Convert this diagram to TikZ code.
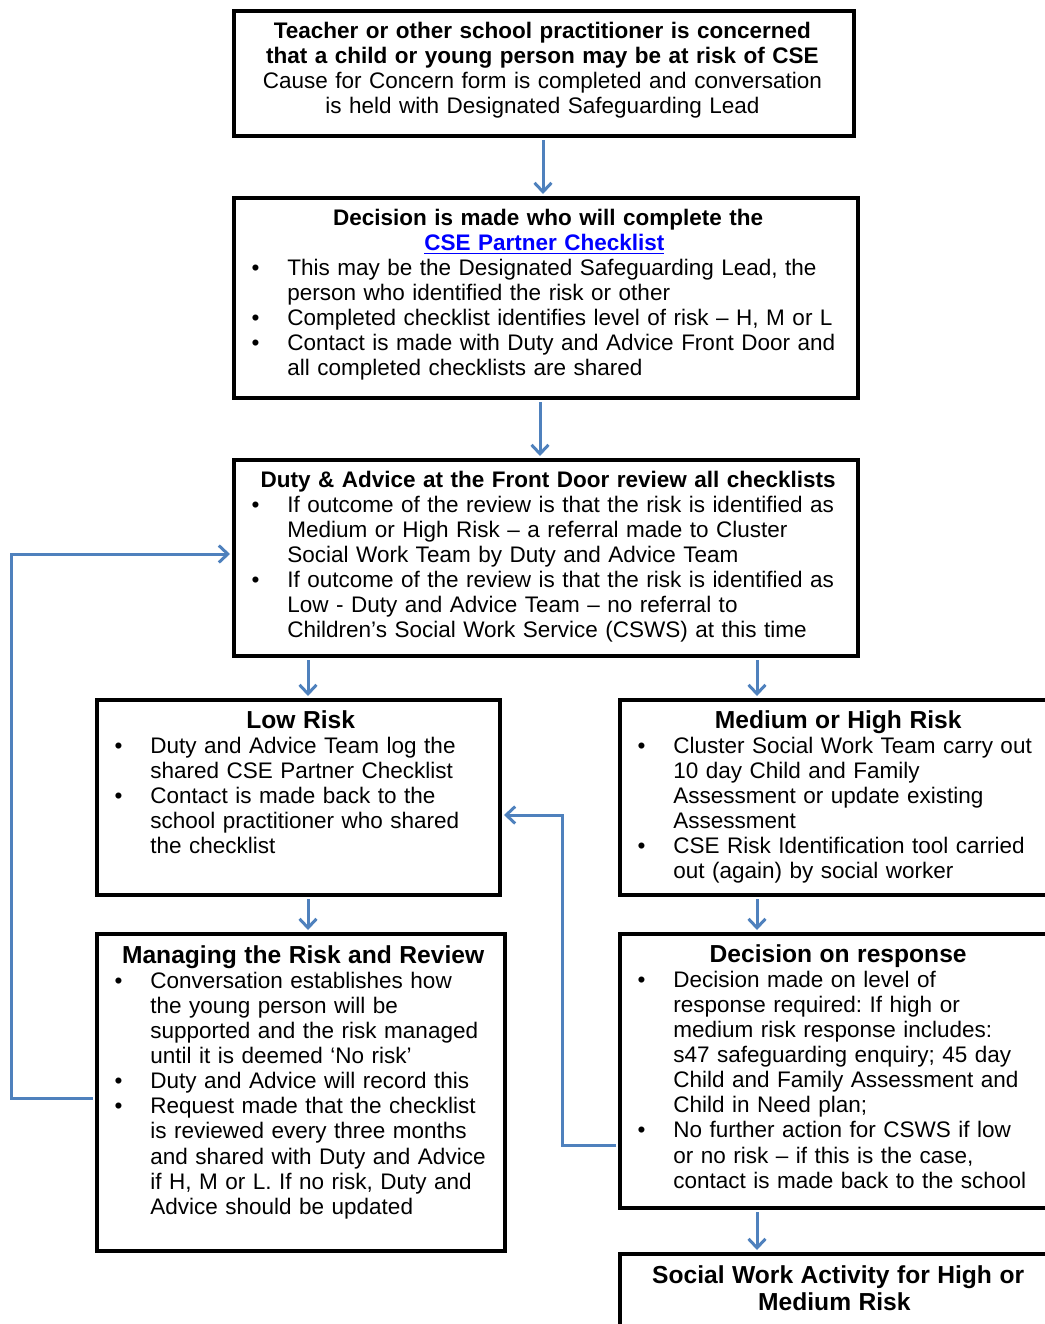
\documentclass[tikz,border=0pt]{standalone}
\usepackage{fontspec}
\setmainfont{Liberation Sans}
\usetikzlibrary{arrows.meta}

\definecolor{flowblue}{RGB}{79,129,189}
\definecolor{linkblue}{RGB}{0,0,255}
\newcommand{\boxhead}[2][]{{\centering\bfseries#1 #2\par}}
\newcommand{\bighead}{\fontsize{12.3}{13.2}\selectfont}
\newcommand{\bitem}[1]{{\leftskip=27.5pt\rightskip=-20pt plus 1fil\noindent\llap{\textbullet\hspace{14pt}}#1\par}}

\tikzset{
	panel/.style={draw, line width=2pt, inner sep=0pt},
	paneltext/.style={anchor=north west, inner sep=0pt, font=\fontsize{11.25}{12.55}\selectfont\frenchspacing},
	flow/.style={draw=flowblue, line width=1.5pt, shorten <=1pt, shorten >=1pt, -{Straight Barb[length=4.5pt,width=8.5pt]}}
}

\begin{document}
\begin{tikzpicture}[x=0.5pt, y=-0.5pt]
	\useasboundingbox (0,0) rectangle (1045,1324);
	% boxes
		\node[panel, minimum width=310pt, minimum height=62.5pt] (concern) at (544,73.5) {};
		\node[panel, minimum width=312pt, minimum height=100pt] (check) at (546,298) {};
		\node[panel, minimum width=312pt, minimum height=98pt] (duty) at (546,558) {};
		\node[panel, minimum width=201.5pt, minimum height=97.5pt] (low) at (298.5,797.5) {};
		\node[panel, minimum width=216pt, minimum height=97.5pt] (medhigh) at (836,797.5) {};
		\node[panel, minimum width=204pt, minimum height=158.5pt] (manage) at (301,1092.5) {};
		\node[panel, minimum width=216pt, minimum height=137pt] (response) at (836,1071) {};
		\node[panel, minimum width=216pt, minimum height=73pt] (social) at (836,1327) {};
	% texts
		\node[paneltext, text width=310pt, align=center] (concern-t) at ([yshift=-6.25pt]concern.north west)
			{\textbf{Teacher or other school practitioner is concerned}\\
			 \textbf{that a child or young person may be at risk of CSE}\\
			 Cause for Concern form is completed and conversation\\
			 is held with Designated Safeguarding Lead};
		\node[paneltext, text width=312pt] (check-t) at ([yshift=-6.25pt]check.north west)
			{\boxhead{Decision is made who will complete the\\
			 \textcolor{linkblue}{\underline{CSE Partner Checklist}}}
			 \bitem{This may be the Designated Safeguarding Lead, the\\person who identified the risk or other}
			 \bitem{Completed checklist identifies level of risk -- H, M or L}
			 \bitem{Contact is made with Duty and Advice Front Door and\\all completed checklists are shared}};
		\node[paneltext, text width=312pt] (duty-t) at ([yshift=-6.25pt]duty.north west)
			{\boxhead{Duty \& Advice at the Front Door review all checklists}
			 \bitem{If outcome of the review is that the risk is identified as\\Medium or High Risk -- a referral made to Cluster\\Social Work Team by Duty and Advice Team}
			 \bitem{If outcome of the review is that the risk is identified as\\Low - Duty and Advice Team -- no referral to\\Children’s Social Work Service (CSWS) at this time}};
		\node[paneltext, text width=201.5pt] (low-t) at ([yshift=-6pt]low.north west)
			{\boxhead[\bighead]{Low Risk}
			 \bitem{Duty and Advice Team log the\\shared CSE Partner Checklist}
			 \bitem{Contact is made back to the\\school practitioner who shared\\the checklist}};
		\node[paneltext, text width=216pt] (medhigh-t) at ([yshift=-6pt]medhigh.north west)
			{\boxhead[\bighead]{Medium or High Risk}
			 \bitem{Cluster Social Work Team carry out\\10 day Child and Family\\Assessment or update existing\\Assessment}
			 \bitem{CSE Risk Identification tool carried\\out (again) by social worker}};
		\node[paneltext, text width=204pt] (manage-t) at ([yshift=-6.5pt]manage.north west)
			{\boxhead[\bighead]{Managing the Risk and Review}
			 \bitem{Conversation establishes how\\the young person will be\\supported and the risk managed\\until it is deemed ‘No risk’}
			 \bitem{Duty and Advice will record this}
			 \bitem{Request made that the checklist\\is reviewed every three months\\and shared with Duty and Advice\\if H, M or L. If no risk, Duty and\\Advice should be updated}};
		\node[paneltext, text width=216pt] (response-t) at ([yshift=-6pt]response.north west)
			{\boxhead[\bighead]{Decision on response}
			 \bitem{Decision made on level of\\response required: If high or\\medium risk response includes:\\s47 safeguarding enquiry; 45 day\\Child and Family Assessment and\\Child in Need plan;}
			 \bitem{No further action for CSWS if low\\or no risk -- if this is the case,\\contact is made back to the school}};
		\node[paneltext, text width=216pt] (social-t) at ([yshift=-6.75pt]social.north west)
			{\boxhead[\bighead]{Social Work Activity for High or\\Medium Risk}};
	% arrows
		\draw[flow] (concern.south -| 543,0) -- (check.north -| 543,0);
		\draw[flow] (check.south -| 540,0) -- (duty.north -| 540,0);
		\draw[flow] (duty.south -| 308,0) -- (low.north -| 308,0);
		\draw[flow] (duty.south -| 757,0) -- (medhigh.north -| 757,0);
		\draw[flow] (low.south -| 308,0) -- (manage.north -| 308,0);
		\draw[flow] (medhigh.south -| 757,0) -- (response.north -| 757,0);
		\draw[flow] (response.south -| 757,0) -- (social.north -| 757,0);
		\draw[flow] (manage.west |- 0,1098) -| (11,554) -- (duty.west |- 0,554);
		\draw[flow] (response.west |- 0,1145) -| (562,815) -- (low.east |- 0,815);
\end{tikzpicture}
\end{document}
